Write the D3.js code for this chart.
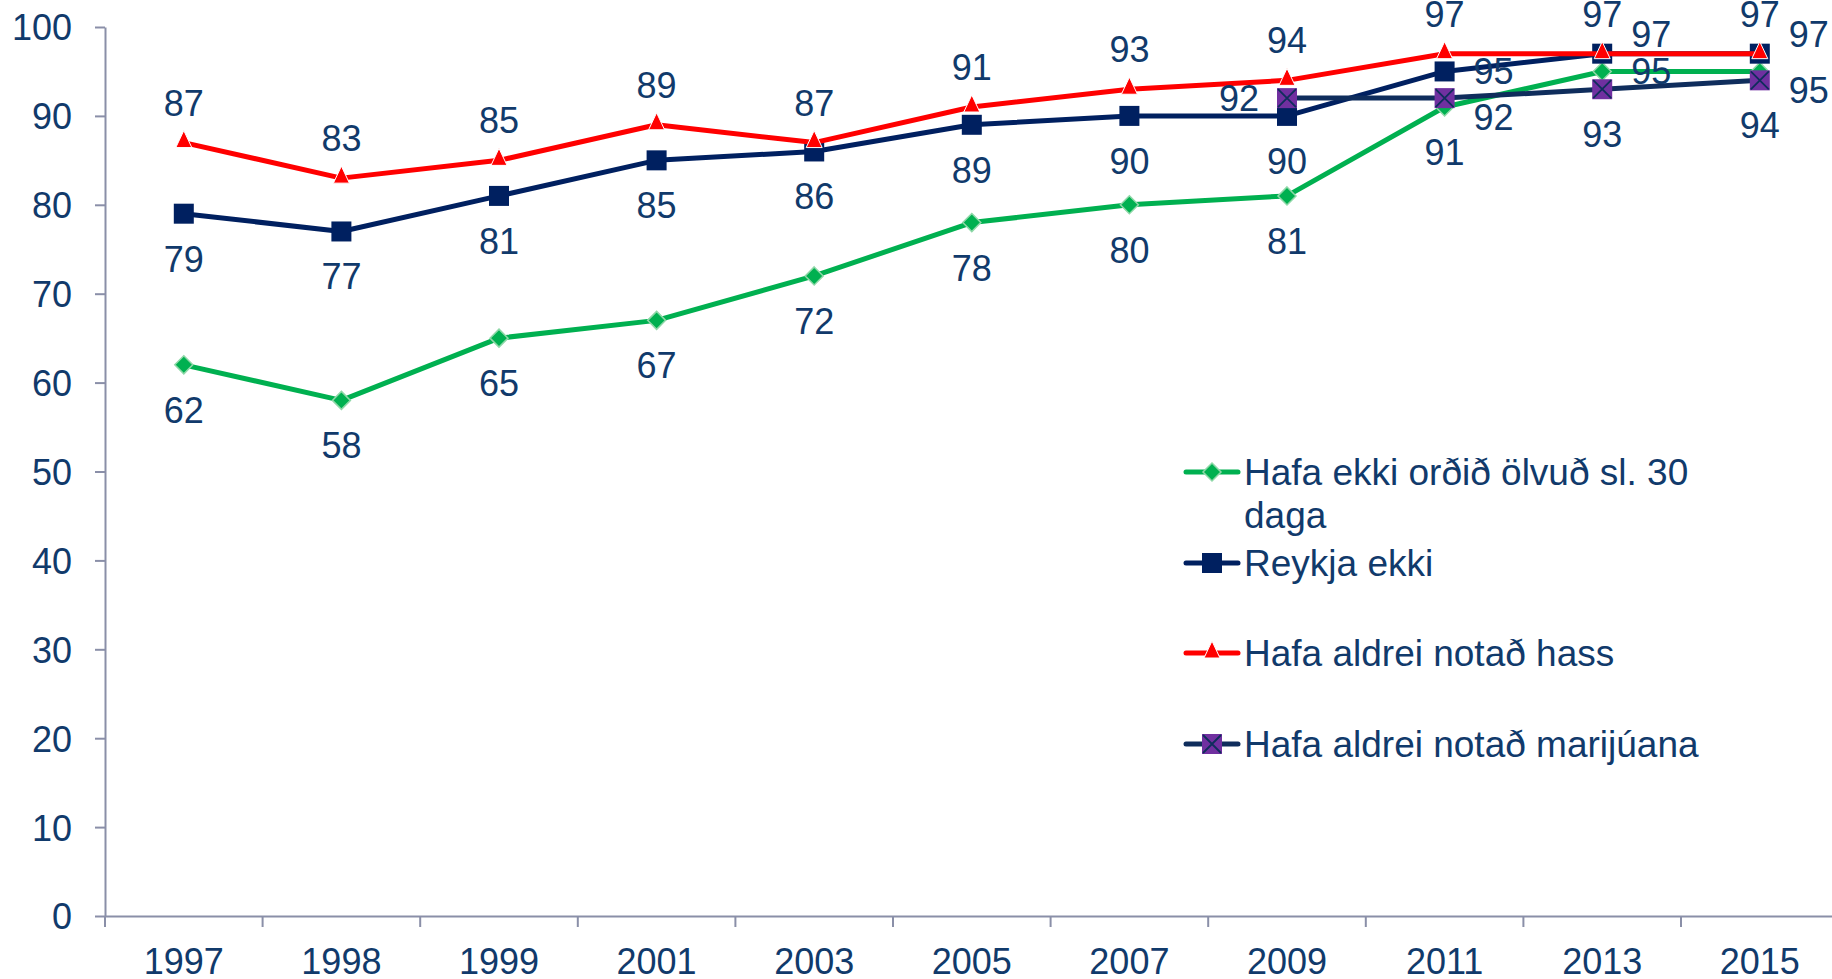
<!DOCTYPE html>
<html>
<head>
<meta charset="utf-8">
<script src="https://cdn.jsdelivr.net/npm/d3@7"></script>
<style>
  html, body { margin: 0; padding: 0; background: #ffffff; }
  svg { display: block; font-family: "Liberation Sans", Arial, sans-serif; }
</style>
</head>
<body>
<div id="chart"></div>
<script>
const years = ["1997", "1998", "1999", "2001", "2003", "2005", "2007", "2009", "2011", "2013", "2015"];
const yTicks = [0, 10, 20, 30, 40, 50, 60, 70, 80, 90, 100];

const olvudValues = [62, 58, 65, 67, 72, 78, 80, 81, 91, 95, 95];
const reykjaValues = [79, 77, 81, 85, 86, 89, 90, 90, 95, 97, 97];
const hassValues = [87, 83, 85, 89, 87, 91, 93, 94, 97, 97, 97];
const marijuanaValues = [null, null, null, null, null, null, null, 92, 92, 93, 94];

// where each value label sits relative to its point
const olvudLabelPos = ["b", "b", "b", "b", "b", "b", "b", "b", "b", "r", "rd"];
const reykjaLabelPos = ["b", "b", "b", "b", "b", "b", "b", "b", "r", "ru", "ru"];
const hassLabelPos = ["t", "t", "t", "t", "t", "t", "t", "t", "t", "t", "t"];
const marijuanaLabelPos = [null, null, null, null, null, null, null, "l", "rd", "b", "b"];

const colors = {
  text: "#113a6b",
  axis: "#8a8fa8",
  green: "#00b050",
  navy: "#002060",
  red: "#ff0000",
  purple: "#7030a0",
  mariLine: "#0f2d5c"
};

const series = [
  { name: ["Hafa ekki orðið ölvuð sl. 30", "daga"], values: olvudValues, labels: olvudLabelPos, color: colors.green, marker: "diamond" },
  { name: ["Reykja ekki"], values: reykjaValues, labels: reykjaLabelPos, color: colors.navy, marker: "square" },
  { name: ["Hafa aldrei notað hass"], values: hassValues, labels: hassLabelPos, color: colors.red, marker: "triangle" },
  { name: ["Hafa aldrei notað marijúana"], values: marijuanaValues, labels: marijuanaLabelPos, color: colors.mariLine, marker: "xsquare" }
];

const W = 1832, H = 979;
const plotLeft = 105, plotTop = 27, plotBottom = 916;
const bandW = 157.6;
const fontSize = "36px";

const svg = d3.select("#chart").append("svg")
  .attr("width", W)
  .attr("height", H);

const x = d3.scaleBand()
  .domain(years)
  .range([plotLeft, plotLeft + bandW * years.length])
  .padding(0);

const y = d3.scaleLinear()
  .domain([0, 100])
  .range([plotBottom, plotTop]);

const cx = d => x(d) + x.bandwidth() / 2;

// y axis
const yAxis = svg.append("g")
  .attr("transform", `translate(${plotLeft},0)`)
  .call(d3.axisLeft(y).tickValues(yTicks).tickSize(10).tickPadding(23).tickSizeOuter(0));
yAxis.select(".domain").attr("stroke", colors.axis).attr("stroke-width", 2);
yAxis.selectAll(".tick line").attr("stroke", colors.axis).attr("stroke-width", 2);
yAxis.selectAll(".tick text")
  .attr("fill", colors.text)
  .style("font-size", fontSize)
  .style("font-family", "'Liberation Sans', Arial, sans-serif")
  .attr("dy", "0.36em");

// x axis: labels centred, ticks on the band edges
const xAxis = svg.append("g")
  .attr("transform", `translate(0,${plotBottom})`)
  .call(d3.axisBottom(x).tickSize(0).tickPadding(32).tickSizeOuter(0));
xAxis.select(".domain").attr("stroke", colors.axis).attr("stroke-width", 2);
xAxis.selectAll(".tick text")
  .attr("fill", colors.text)
  .style("font-size", fontSize)
  .style("font-family", "'Liberation Sans', Arial, sans-serif");

svg.append("g").selectAll("line")
  .data(years.concat(["end"]))
  .enter()
  .append("line")
  .attr("x1", (d, i) => i < years.length ? x(d) : x(years[years.length - 1]) + x.bandwidth())
  .attr("x2", (d, i) => i < years.length ? x(d) : x(years[years.length - 1]) + x.bandwidth())
  .attr("y1", plotBottom)
  .attr("y2", plotBottom + 11)
  .attr("stroke", colors.axis)
  .attr("stroke-width", 2);

// markers
function drawMarker(g, type, px, py) {
  if (type === "diamond") {
    const s = 9;
    g.append("path")
      .attr("d", `M${px},${py - s}L${px + s},${py}L${px},${py + s}L${px - s},${py}Z`)
      .attr("fill", colors.green)
      .attr("stroke", "#8fd8a8")
      .attr("stroke-width", 1.5);
  } else if (type === "square") {
    const s = 10;
    g.append("rect")
      .attr("x", px - s).attr("y", py - s)
      .attr("width", 2 * s).attr("height", 2 * s)
      .attr("fill", colors.navy);
  } else if (type === "triangle") {
    const s = 8;
    g.append("path")
      .attr("d", `M${px},${py - s - 4}L${px + s},${py + s - 3}L${px - s},${py + s - 3}Z`)
      .attr("fill", colors.red)
      .attr("stroke", "#ffffff")
      .attr("stroke-width", 1);
  } else if (type === "xsquare") {
    const s = 10;
    g.append("rect")
      .attr("x", px - s).attr("y", py - s)
      .attr("width", 2 * s).attr("height", 2 * s)
      .attr("fill", colors.purple);
    g.append("path")
      .attr("d", `M${px - s + 1},${py - s + 1}L${px + s - 1},${py + s - 1}M${px + s - 1},${py - s + 1}L${px - s + 1},${py + s - 1}`)
      .attr("stroke", colors.mariLine)
      .attr("stroke-width", 1.8);
  }
}

const line = d3.line()
  .defined(d => d.v != null)
  .x(d => cx(d.year))
  .y(d => y(d.v));

const labelLayer = [];

series.forEach(s => {
  const pts = years.map((yr, i) => ({ year: yr, v: s.values[i], pos: s.labels[i] }));
  const g = svg.append("g");

  g.append("path")
    .datum(pts)
    .attr("d", line)
    .attr("fill", "none")
    .attr("stroke", s.color)
    .attr("stroke-width", 5)
    .attr("stroke-linejoin", "round");

  pts.filter(d => d.v != null).forEach(d => {
    drawMarker(g, s.marker, cx(d.year), y(d.v));
    labelLayer.push(d);
  });
});

// value labels
const labelOffsets = {
  t: [0, -40],
  b: [0, 45],
  r: [49, 0],
  ru: [49, -20],
  rd: [49, 19],
  l: [-48, 0]
};

svg.append("g").selectAll("text")
  .data(labelLayer)
  .enter()
  .append("text")
  .attr("x", d => cx(d.year) + labelOffsets[d.pos][0])
  .attr("y", d => y(d.v) + labelOffsets[d.pos][1])
  .attr("dy", "0.36em")
  .attr("text-anchor", "middle")
  .attr("fill", colors.text)
  .style("font-size", fontSize)
  .text(d => d.v);

// legend
const legendX = 1186, legendTextX = 1244;
const legendRows = [472, 563, 653, 744];

series.forEach((s, i) => {
  const ly = legendRows[i];
  const g = svg.append("g");
  g.append("line")
    .attr("x1", legendX).attr("x2", legendX + 52)
    .attr("y1", ly).attr("y2", ly)
    .attr("stroke", s.color)
    .attr("stroke-width", 5)
    .attr("stroke-linecap", "round");
  drawMarker(g, s.marker, legendX + 26, ly);
  const t = g.append("text")
    .attr("x", legendTextX)
    .attr("y", ly)
    .attr("fill", colors.text)
    .style("font-size", "37px");
  s.name.forEach((part, j) => {
    t.append("tspan")
      .attr("x", legendTextX)
      .attr("dy", j === 0 ? "0.36em" : "1.15em")
      .text(part);
  });
});
</script>
</body>
</html>
